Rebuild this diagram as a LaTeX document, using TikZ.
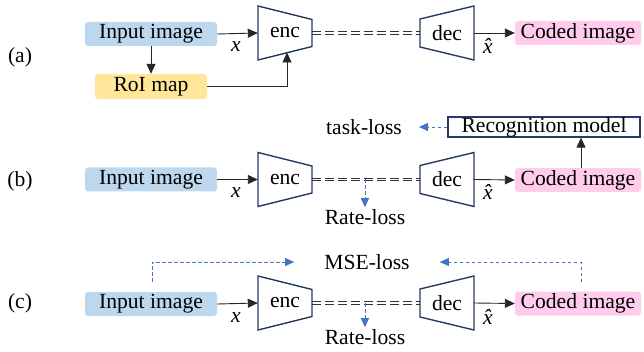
\documentclass[tikz,border=0pt]{standalone}
\usepackage{fontspec}
\setmainfont{Liberation Serif}
\usetikzlibrary{arrows.meta,calc}
\definecolor{inblue}{RGB}{189,215,238}
\definecolor{roiyel}{RGB}{255,230,153}
\definecolor{codpink}{RGB}{255,204,236}
\definecolor{navy}{RGB}{38,58,100}
\definecolor{lossblue}{RGB}{68,114,196}
\begin{document}
\begin{tikzpicture}[x=1pt,y=-1pt,
  every node/.style={font=\rmfamily\fontsize{21.6}{24}\selectfont},
  box/.style={rounded corners=3pt, inner sep=0pt, minimum height=24pt},
  inbox/.style={box, fill=inblue, minimum width=132pt},
  codbox/.style={box, fill=codpink, minimum width=126pt},
  roibox/.style={box, fill=roiyel, minimum width=112pt, minimum height=25pt},
  recbox/.style={draw=navy, line width=1.3pt, fill=white, inner sep=0pt, minimum width=192pt, minimum height=20pt},
  coder/.style={inner sep=0pt, minimum width=54pt, minimum height=20pt},
  trap/.style={draw=navy, line width=1.4pt, line join=miter},
  arr/.style={-{Triangle[length=10pt,width=9pt]}, line width=0.9pt, black!85},
  larr/.style={-{Triangle[length=9pt,width=8pt]}, line width=0.8pt, lossblue, dash pattern=on 3.5pt off 2.5pt},
  chanl/.style={draw=black!80, line width=1pt, dash pattern=on 9pt off 4pt},
  sym/.style={inner sep=0pt},
  tag/.style={inner sep=0pt}
]
\useasboundingbox (0,0) rectangle (644,352);

% ---------- (a) ----------
\node[tag] (ta) at (20,57) {(a)};
\node[inbox] (ina) at (151,34) {Input image};
\node[roibox] (roi) at (151,86.5) {RoI map};
\node[coder] (enca) at (285,33) {enc};
\node[coder] (deca) at (447,33) {dec};
\node[codbox] (coda) at (578,33) {Coded image};
\draw[trap] ($(enca.center)+(-27,-27)$) -- ($(enca.center)+(27,-13.5)$) -- ($(enca.center)+(27,13.5)$) -- ($(enca.center)+(-27,27)$) -- cycle;
\draw[trap] ($(deca.center)+(-27,-14)$) -- ($(deca.center)+(27,-27)$) -- ($(deca.center)+(27,27)$) -- ($(deca.center)+(-27,14)$) -- cycle;
\coordinate (encabot) at ($(enca.center)+(2,19.5)$);
\draw[arr] (ina.east) -- (enca.west);
\draw[arr] (ina.south) -- (roi.north);
\draw[arr] (roi.east) -| (encabot);
\draw[chanl] ([yshift=-1.3pt]enca.east) -- ([yshift=-1.3pt]deca.west);
\draw[chanl] ([yshift=1.3pt]enca.east) -- ([yshift=1.3pt]deca.west);
\draw[arr] (deca.east) -- (coda.west);
\node[sym] (xa) at (236,47) {\textit{x}};
\node[sym] (xha) at (492,46) {\textit{\^x}};

% ---------- (b) ----------
\node[tag] (tb) at (20,181) {(b)};
\node[inbox] (inb) at (151,179.5) {Input image};
\node[coder] (encb) at (285,179.5) {enc};
\node[coder] (decb) at (447,179.5) {dec};
\node[codbox] (codb) at (578,180) {Coded image};
\node[recbox] (rec) at (544,127) {Recognition model};
\node[inner sep=0pt, inner xsep=17pt] (task) at (364,127) {task-loss};
\node[inner sep=2pt] (rateb) at (365,217) {Rate-loss};
\draw[trap] ($(encb.center)+(-27,-27)$) -- ($(encb.center)+(27,-13.5)$) -- ($(encb.center)+(27,13.5)$) -- ($(encb.center)+(-27,27)$) -- cycle;
\draw[trap] ($(decb.center)+(-27,-14)$) -- ($(decb.center)+(27,-27)$) -- ($(decb.center)+(27,27)$) -- ($(decb.center)+(-27,14)$) -- cycle;
\draw[arr] (inb.east) -- (encb.west);
\draw[chanl] ([yshift=-1.3pt]encb.east) -- ([yshift=-1.3pt]decb.west);
\draw[chanl] ([yshift=1.3pt]encb.east) -- ([yshift=1.3pt]decb.west);
\draw[arr] (decb.east) -- (codb.west);
\draw[arr] ([xshift=3pt]codb.north) -- ([xshift=3pt]codb.north |- rec.south);
\draw[larr] (rec.west) -- (task.east);
\coordinate (rbs) at ($(encb.east)!0.49!(decb.west)$);
\draw[larr] (rbs) -- (rbs |- rateb.north);
\node[sym] (xb) at (236,193) {\textit{x}};
\node[sym] (xhb) at (492,192) {\textit{\^x}};

% ---------- (c) ----------
\node[tag] (tc) at (20,303) {(c)};
\node[inbox] (inc) at (151,304) {Input image};
\node[coder] (encc) at (285,303) {enc};
\node[coder] (decc) at (447,303) {dec};
\node[codbox] (codc) at (578,303.5) {Coded image};
\node[inner sep=0pt, inner xsep=30pt] (mse) at (367,262) {MSE-loss};
\node[inner sep=2pt] (ratec) at (365,337) {Rate-loss};
\draw[trap] ($(encc.center)+(-27,-27)$) -- ($(encc.center)+(27,-13.5)$) -- ($(encc.center)+(27,13.5)$) -- ($(encc.center)+(-27,27)$) -- cycle;
\draw[trap] ($(decc.center)+(-27,-14)$) -- ($(decc.center)+(27,-27)$) -- ($(decc.center)+(27,27)$) -- ($(decc.center)+(-27,14)$) -- cycle;
\draw[arr] (inc.east) -- (encc.west);
\draw[chanl] ([yshift=-1.3pt]encc.east) -- ([yshift=-1.3pt]decc.west);
\draw[chanl] ([yshift=1.3pt]encc.east) -- ([yshift=1.3pt]decc.west);
\draw[arr] (decc.east) -- (codc.west);
\draw[larr, shorten <=10pt] ([xshift=1pt]inc.north) |- (mse.west);
\draw[larr, shorten <=9pt] ([xshift=3pt]codc.north) |- (mse.east);
\coordinate (rcs) at ($(encc.east)!0.49!(decc.west)$);
\draw[larr] (rcs) -- (rcs |- ratec.north);
\node[sym] (xc) at (236,318) {\textit{x}};
\node[sym] (xhc) at (492,317) {\textit{\^x}};
\end{tikzpicture}
\end{document}
